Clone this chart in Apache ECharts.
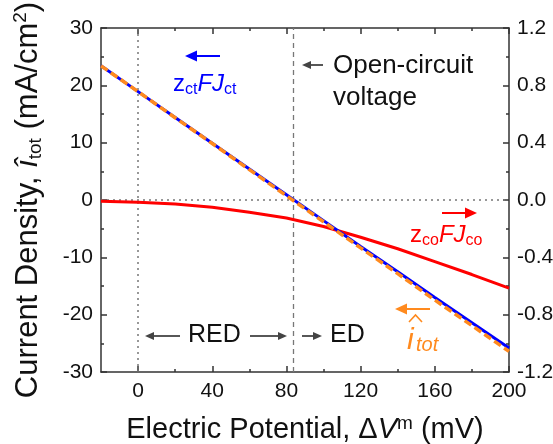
<!DOCTYPE html>
<html>
<head>
<meta charset="utf-8">
<script src="https://cdn.jsdelivr.net/npm/echarts@6/dist/echarts.min.js"></script>
<style>html,body{margin:0;padding:0;background:#fff}#c{width:553px;height:444px}</style>
</head>
<body>
<div id="c"></div>
<script>
// ---- data ----
var potentials = [-20, 0, 20, 40, 60, 80, 100, 120, 140, 160, 180, 200];
var ctCurrent = [23.4, 18.9, 14.4, 9.9, 5.4, 0.9, -3.6, -8.1, -12.5, -17.0, -21.4, -25.8];       // left axis, mA/cm2
var coCurrent = [-0.008, -0.016, -0.028, -0.05, -0.085, -0.125, -0.185, -0.26, -0.34, -0.43, -0.52, -0.615]; // right axis
var totCurrent = [23.4, 18.9, 14.35, 9.85, 5.3, 0.75, -3.8, -8.35, -12.85, -17.45, -21.9, -26.4]; // left axis
var xMajorTicks = [0, 40, 80, 120, 160, 200];
var xMinorTicks = [20, 60, 100, 140, 180];
var openCircuitV = 83.5;

function pairs(xs, ys) { return xs.map(function (x, i) { return [x, ys[i]]; }); }

var FONT = '"Liberation Sans", Arial, sans-serif';
var AX = '#333';
var BLUE = '#0000FF', RED = '#FF0000', ORANGE = '#FF8A1E';

var chart = echarts.init(document.getElementById('c'), null, { renderer: 'canvas' });

function xAx(pos, ticks, len, showLine, showLabel, extra) {
  var o = {
    type: 'value', min: -20, max: 200, position: pos, gridIndex: 0,
    axisLine: { show: showLine, onZero: false, lineStyle: { color: AX, width: 1.5 } },
    axisTick: { show: true, inside: true, length: len, customValues: ticks, lineStyle: { color: AX, width: 1.5 } },
    axisLabel: { show: showLabel, customValues: ticks, fontSize: 21, color: '#111', fontFamily: FONT, margin: 9 },
    splitLine: { show: false }
  };
  if (extra) for (var k in extra) o[k] = extra[k];
  return o;
}

var option = {
  animation: false,
  backgroundColor: '#fff',
  grid: { left: 101, right: 44, top: 28, bottom: 72, outerBoundsMode: 'none', containLabel: false },
  xAxis: [
    xAx('bottom', xMajorTicks, 6, true, true, {
      name: 'Electric Potential, \u0394{i|V}{sup|m} (mV)',
      nameLocation: 'middle', nameGap: 42,
      nameTextStyle: {
        fontSize: 29, color: '#111', fontFamily: FONT, lineHeight: 32,
        rich: {
          i: { fontSize: 29, fontStyle: 'italic', fontFamily: FONT, color: '#111', lineHeight: 32 },
          sup: { fontSize: 19, fontFamily: FONT, color: '#111', verticalAlign: 'top', lineHeight: 22 }
        }
      }
    }),
    xAx('bottom', xMinorTicks, 3, false, false),
    xAx('top', xMajorTicks, 6, true, false),
    xAx('top', xMinorTicks, 3, false, false)
  ],
  yAxis: [
    {
      type: 'value', min: -30, max: 30, interval: 10, position: 'left',
      axisLine: { show: true, onZero: false, lineStyle: { color: AX, width: 1.5 } },
      axisTick: { inside: true, length: 6, lineStyle: { color: AX, width: 1.5 } },
      minorTick: { show: true, splitNumber: 2, length: 3, lineStyle: { color: AX, width: 1.5 } },
      axisLabel: { fontSize: 21, color: '#111', fontFamily: FONT, margin: 8 },
      splitLine: { show: false },
      name: 'Current Density, {i|\u00EE}{sub|tot} (mA/cm{sup|2})',
      nameLocation: 'middle', nameGap: 56, nameRotate: 90,
      nameTextStyle: {
        fontSize: 31, color: '#111', fontFamily: FONT, lineHeight: 34,
        rich: {
          i: { fontSize: 31, fontStyle: 'italic', fontFamily: FONT, color: '#111', lineHeight: 34 },
          sub: { fontSize: 19, fontFamily: FONT, color: '#111', verticalAlign: 'bottom', lineHeight: 26 },
          sup: { fontSize: 19, fontFamily: FONT, color: '#111', verticalAlign: 'top', lineHeight: 26 }
        }
      }
    },
    {
      type: 'value', min: -1.2, max: 1.2, interval: 0.4, position: 'right',
      axisLine: { show: true, onZero: false, lineStyle: { color: AX, width: 1.5 } },
      axisTick: { inside: true, length: 6, lineStyle: { color: AX, width: 1.5 } },
      minorTick: { show: true, splitNumber: 2, length: 3, lineStyle: { color: AX, width: 1.5 } },
      axisLabel: { fontSize: 21, color: '#111', fontFamily: FONT, margin: 8,
        formatter: function (v) { return (Math.round(v * 10) / 10).toFixed(1); } },
      splitLine: { show: false }
    }
  ],
  series: [
    {
      name: 'co', type: 'line', xAxisIndex: 0, yAxisIndex: 1, data: pairs(potentials, coCurrent),
      showSymbol: false, smooth: false, z: 3,
      lineStyle: { color: RED, width: 3 }
    },
    {
      name: 'ct', type: 'line', xAxisIndex: 0, yAxisIndex: 0, data: pairs(potentials, ctCurrent),
      showSymbol: false, z: 4,
      lineStyle: { color: BLUE, width: 3 },
      markLine: {
        silent: true, symbol: ['none', 'none'], label: { show: false }, z: 1,
        data: [
          { xAxis: 0, lineStyle: { color: '#777', width: 1.5, type: [2, 4] } },
          { yAxis: 0, lineStyle: { color: '#777', width: 1.5, type: [2, 4] } },
          { xAxis: openCircuitV, lineStyle: { color: '#777', width: 1.3, type: [5, 4] } }
        ]
      }
    },
    {
      name: 'tot', type: 'line', xAxisIndex: 0, yAxisIndex: 0, data: pairs(potentials, totCurrent),
      showSymbol: false, z: 5,
      lineStyle: { color: ORANGE, width: 3.5, type: [8, 4] }
    }
  ],
  graphic: []
};

function arrow(x1, x2, y, color, w, head) {
  var dir = x2 > x1 ? 1 : -1;
  return [
    { type: 'line', shape: { x1: x1, y1: y, x2: x2 - dir * head * 0.8, y2: y }, style: { stroke: color, lineWidth: w }, z: 10 },
    { type: 'polygon', shape: { points: [[x2, y], [x2 - dir * head, y - head * 0.45], [x2 - dir * head, y + head * 0.45]] }, style: { fill: color }, z: 10 }
  ];
}
function rtext(x, y, text, rich, color) {
  return { type: 'text', style: { x: x, y: y, text: text, rich: rich, fontFamily: FONT, fill: color }, z: 10 };
}
function labelRich(color) {
  return {
    n: { fontSize: 24, fontFamily: FONT, fill: color, lineHeight: 28 },
    it: { fontSize: 24, fontFamily: FONT, fontStyle: 'italic', fill: color, lineHeight: 28 },
    s: { fontSize: 16, fontFamily: FONT, fill: color, verticalAlign: 'bottom', lineHeight: 18 }
  };
}
var G = [];
G = G.concat(arrow(220, 185, 56, BLUE, 2, 12));
G.push(rtext(173, 70, '{n|z}{s|ct}{it|FJ}{s|ct}', labelRich(BLUE), BLUE));
G = G.concat(arrow(323, 302, 65, '#444', 1.8, 9));
G.push({ type: 'text', style: { x: 333, y: 50, text: 'Open-circuit\nvoltage', fontSize: 26, lineHeight: 32, fontFamily: FONT, fill: '#111' }, z: 10 });
G = G.concat(arrow(442, 477, 213, RED, 2, 12));
G.push(rtext(410, 221, '{n|z}{s|co}{it|FJ}{s|co}', labelRich(RED), RED));
G = G.concat(arrow(430, 395, 309, ORANGE, 2, 12));
G.push({ type: 'polyline', shape: { points: [[409, 322], [415.5, 315], [422, 322]] }, style: { stroke: ORANGE, lineWidth: 1.6, fill: null }, z: 10 });
G.push({ type: 'text', style: { x: 407, y: 326, text: 'i', fontSize: 30, fontStyle: 'italic', fontFamily: FONT, fill: ORANGE }, z: 10 });
G.push({ type: 'text', style: { x: 416, y: 335, text: 'tot', fontSize: 20, fontStyle: 'italic', fontFamily: FONT, fill: ORANGE }, z: 10 });
G = G.concat(arrow(180, 145, 336, '#444', 1.8, 9));
G.push({ type: 'text', style: { x: 188, y: 323, text: 'RED', fontSize: 25, fontFamily: FONT, fill: '#111' }, z: 10 });
G = G.concat(arrow(250, 287, 336, '#444', 1.8, 9));
G = G.concat(arrow(302, 322, 336, '#444', 1.8, 9));
G.push({ type: 'text', style: { x: 330, y: 323, text: 'ED', fontSize: 25, fontFamily: FONT, fill: '#111' }, z: 10 });
option.graphic = G;

chart.setOption(option);
</script>
</body>
</html>
